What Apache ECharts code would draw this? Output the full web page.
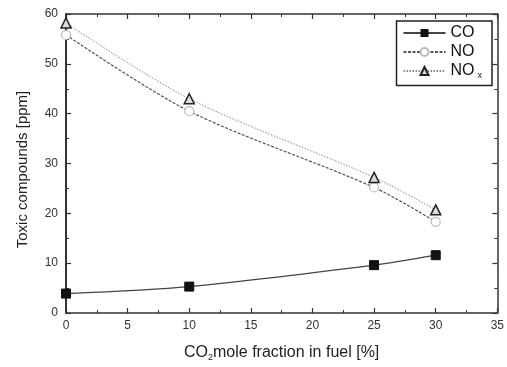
<!DOCTYPE html>
<html>
<head>
<meta charset="utf-8">
<script src="https://cdn.jsdelivr.net/npm/echarts@6/dist/echarts.min.js"></script>
<style>
  html, body { margin: 0; padding: 0; background: #fff; }
  #chart { width: 507px; height: 367px; }
</style>
</head>
<body>
<div id="chart"></div>
<script>
const xValues = [0, 10, 25, 30]
const coValues = [3.9, 5.3, 9.6, 11.6]
const noValues = [55.8, 40.5, 25.2, 18.3]
const noxValues = [58.2, 43.0, 27.2, 20.7]

const pairs = (ys) => xValues.map((x, i) => [x, ys[i]])
const font = 'Liberation Sans, Arial, sans-serif'

// shared look of the frame axes
const tick = { inside: true, length: 5, lineStyle: { color: '#333', width: 1.2 } }
const minor = { show: true, splitNumber: 2, length: 3, lineStyle: { color: '#333' } }

const myChart = echarts.init(document.getElementById('chart'))
myChart.setOption({
  animation: false,
  textStyle: { fontFamily: font },
  grid: { left: 66, right: 7, top: 14, bottom: 49 },
  legend: {
    orient: 'vertical',
    right: 15,
    top: 21,
    itemWidth: 42,
    itemHeight: 10,
    itemGap: 3,
    padding: [4, 10, 5, 6],
    borderColor: '#222',
    borderWidth: 1.5,
    backgroundColor: '#fff',
    textStyle: {
      fontSize: 16,
      color: '#111',
      rich: {
        n: { fontSize: 16, color: '#111' },
        s: { fontSize: 9, color: '#111', padding: [10, 0, 0, 3] }
      }
    },
    formatter: function(name) {
      if (name === 'NOx') return '{n|NO}{s|x}'
      return '{n|' + name + '}'
    },
    data: ['CO', 'NO', 'NOx']
  },
  xAxis: [
    {
      type: 'value',
      min: 0,
      max: 35,
      interval: 5,
      name: 'CO{sub|2}mole fraction in fuel [%]',
      nameLocation: 'middle',
      nameGap: 31,
      nameTextStyle: {
        fontSize: 16,
        color: '#222',
        rich: { sub: { fontSize: 9, padding: [9, 0, 0, 0], color: '#222' } }
      },
      axisLine: { onZero: false, lineStyle: { color: '#333', width: 1.5 } },
      axisTick: tick,
      minorTick: minor,
      axisLabel: { fontSize: 12, color: '#333', margin: 7 },
      splitLine: { show: false }
    },
    {
      type: 'value',
      position: 'top',
      min: 0,
      max: 35,
      interval: 5,
      axisLine: { show: true, onZero: false, lineStyle: { color: '#333', width: 1.5 } },
      axisTick: tick,
      minorTick: minor,
      axisLabel: { show: false },
      splitLine: { show: false }
    }
  ],
  yAxis: [
    {
      type: 'value',
      min: 0,
      max: 60,
      interval: 10,
      name: 'Toxic compounds [ppm]',
      nameLocation: 'middle',
      nameGap: 36,
      nameTextStyle: { fontSize: 15, color: '#222', padding: [0, 0, 0, -12] },
      axisLine: { show: true, onZero: false, lineStyle: { color: '#333', width: 2 } },
      axisTick: tick,
      minorTick: minor,
      axisLabel: { fontSize: 12, color: '#333', margin: 8 },
      splitLine: { show: false }
    },
    {
      type: 'value',
      position: 'right',
      min: 0,
      max: 60,
      interval: 10,
      axisLine: { show: true, onZero: false, lineStyle: { color: '#333', width: 1.5 } },
      axisTick: tick,
      minorTick: minor,
      axisLabel: { show: false },
      splitLine: { show: false }
    }
  ],
  series: [
    {
      name: 'CO',
      type: 'line',
      smooth: 0.3,
      data: pairs(coValues),
      symbol: 'rect',
      symbolSize: 9,
      itemStyle: { color: '#111', borderColor: '#111' },
      lineStyle: { color: '#444', width: 1.2, type: 'solid' }
    },
    {
      name: 'NO',
      type: 'line',
      smooth: 0.3,
      data: pairs(noValues),
      symbol: 'circle',
      symbolSize: 9,
      itemStyle: { color: '#fff', borderColor: '#bbb', borderWidth: 1.2 },
      lineStyle: { color: '#555', width: 1.2, type: [3, 1.5] }
    },
    {
      name: 'NOx',
      type: 'line',
      smooth: 0.3,
      data: pairs(noxValues),
      symbol: 'triangle',
      symbolSize: 10,
      itemStyle: { color: '#ddd', borderColor: '#222', borderWidth: 1.5 },
      lineStyle: { color: '#888', width: 1, type: [1.5, 1.5] }
    }
  ]
})
</script>
</body>
</html>
